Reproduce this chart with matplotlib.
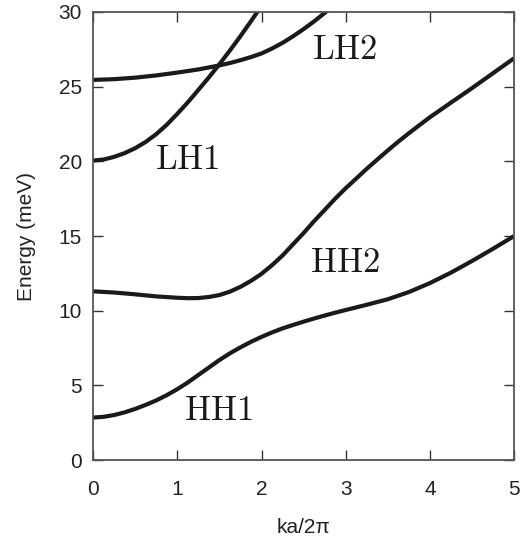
import matplotlib
matplotlib.use("Agg")
import matplotlib.pyplot as plt

plt.rcParams['mathtext.fontset'] = 'cm'
plt.rcParams['font.family'] = ['Liberation Sans', 'DejaVu Sans']

k_hh1 = [0, 0.125, 0.25, 0.375, 0.5, 0.625, 0.75, 0.875, 1.0, 1.125, 1.25,
         1.375, 1.5, 1.625, 1.75, 1.875, 2.0, 2.125, 2.25, 2.375, 2.5, 2.625,
         2.75, 2.875, 3.0, 3.25, 3.5, 3.75, 4.0, 4.25, 4.5, 4.75, 5.0]
hh1 = [2.85, 2.9, 3.02, 3.2, 3.43, 3.7, 4.0, 4.35, 4.75, 5.2, 5.7,
       6.2, 6.7, 7.15, 7.55, 7.92, 8.25, 8.55, 8.82, 9.05, 9.27, 9.48,
       9.68, 9.87, 10.05, 10.4, 10.77, 11.25, 11.85, 12.55, 13.33, 14.15, 15.0]
k_hh2 = [0, 0.25, 0.5, 0.75, 1.0, 1.125, 1.25, 1.375, 1.5, 1.625, 1.75,
         1.875, 2.0, 2.125, 2.25, 2.375, 2.5, 2.625, 2.75, 2.875, 3.0, 3.125,
         3.25, 3.375, 3.5, 3.625, 3.75, 3.875, 4.0, 4.25, 4.5, 4.75, 5.0]
hh2 = [11.3, 11.22, 11.1, 10.96, 10.87, 10.84, 10.85, 10.92, 11.05, 11.28,
       11.6, 12.0, 12.47, 13.05, 13.7, 14.45, 15.2, 16.0, 16.75, 17.5, 18.2,
       18.85, 19.5, 20.12, 20.73, 21.32, 21.88, 22.42, 22.95, 23.93, 24.9,
       25.9, 26.9]
k_lh1 = [0, 0.125, 0.25, 0.375, 0.5, 0.625, 0.75, 0.875, 1.0, 1.125, 1.25,
         1.375, 1.5, 1.625, 1.75, 1.875, 2.0, 2.125]
lh1 = [20.05, 20.12, 20.3, 20.55, 20.88, 21.3, 21.82, 22.45, 23.18, 23.95,
       24.78, 25.62, 26.5, 27.42, 28.38, 29.38, 30.4, 31.45]
k_lh2 = [0, 0.25, 0.5, 0.75, 1.0, 1.25, 1.5, 1.625, 1.75, 1.875, 2.0, 2.125,
         2.25, 2.375, 2.5, 2.625, 2.75, 2.875]
lh2 = [25.45, 25.5, 25.6, 25.75, 25.94, 26.15, 26.42, 26.58, 26.77, 26.98,
       27.22, 27.55, 27.93, 28.37, 28.85, 29.37, 29.93, 30.5]

labels = ['HH1', 'HH2', 'LH1', 'LH2']
label_x = [1.49, 2.99, 1.12, 2.99]
label_y = [3.35, 13.25, 20.15, 27.5]

fig = plt.figure(figsize=(5.23, 5.42), dpi=100)
ax = fig.add_axes([0.178, 0.151, 0.805, 0.827])

lc = '#1a1a1a'
for xs, ys in [(k_hh1, hh1), (k_hh2, hh2), (k_lh1, lh1), (k_lh2, lh2)]:
    ax.plot(xs, ys, color=lc, lw=3.0, solid_capstyle='butt',
            solid_joinstyle='round')

for t, x, y in zip(labels, label_x, label_y):
    ax.text(x, y, r'$\mathrm{%s}$' % t, fontsize=25, ha='center', va='center',
            color='#1a1a1a')

ax.set_xlim(0, 5)
ax.set_ylim(0, 30)
ax.set_xticks([0, 1, 2, 3, 4, 5])
ax.set_yticks([0, 5, 10, 15, 20, 25, 30])
for s in ax.spines.values():
    s.set_color('#555555')
    s.set_linewidth(1.3)
ax.tick_params(direction='in', length=7, width=1, color='#333333',
               top=True, right=True, labelsize=15, labelcolor='#222222')
ax.tick_params(axis='x', pad=14)
ax.tick_params(axis='y', pad=8)
ax.set_xlabel('ka/2π', fontsize=15, color='#222222', labelpad=14)
ax.set_ylabel('Energy (meV)', fontsize=15, color='#222222', labelpad=16)

fig.savefig('out.png', dpi=100)
